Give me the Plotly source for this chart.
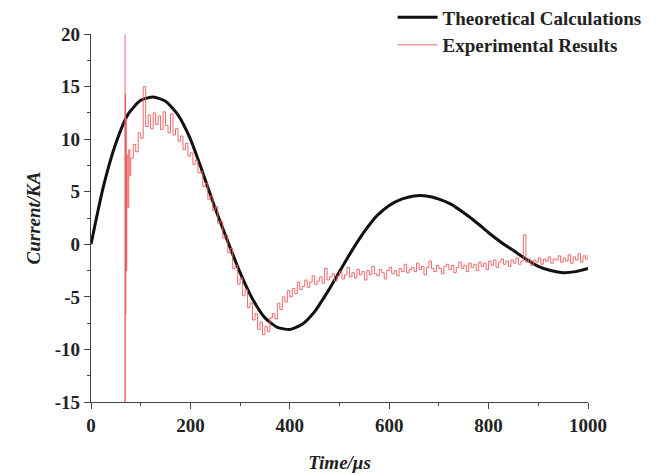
import plotly.graph_objects as go

# Theoretical calculation
theo_time = [0, 25, 50, 75, 100, 125, 150, 175, 200, 225, 250, 275, 300, 325, 350, 375, 400,
             425, 450, 475, 500, 525, 550, 575, 600, 625, 650, 675, 700, 725, 750, 775, 800,
             825, 850, 875, 900, 925, 950, 975, 1000]
theo_current = [0, 5.5, 9.6, 12.4, 13.7, 14.0, 13.6, 12.3, 10.0, 6.8, 3.4, 0.3, -2.7, -5.2, -7.0, -7.9, -8.1,
                -7.6, -6.4, -4.6, -2.6, -0.6, 1.2, 2.7, 3.7, 4.3, 4.6, 4.6, 4.3, 3.8, 3.0, 2.1, 1.1,
                0.2, -0.6, -1.4, -2.1, -2.5, -2.7, -2.6, -2.3]

spike_time = [68, 68.5, 69, 69.5, 70, 71, 72, 74, 76, 78]
spike_current = [20.5, -15.5, 14.3, -6.7, 12.0, -2.5, 8.5, 3.5, 9.0, 6.5]
exp_current = [
    8.2, 9.5, 8.8, 10.6, 10.1, 15.0, 11.2, 12.3, 11.0, 12.5, 11.4, 12.2, 10.9, 12.6, 11.3, 10.6, 12.4, 10.4, 11.0, 9.8, 10.3, 9.0, 9.6, 8.4,
    8.7, 7.6, 8.0, 6.8, 6.9, 5.5, 5.8, 4.3, 4.6, 3.2, 3.6, 2.0, 2.2, 0.6, 0.9, -0.8, -0.4, -2.3, -2.0, -3.8, -3.2, -4.9, -4.3, -6.0, -5.6, -7.2, -6.6, -8.1, -7.4, -8.6,
    -7.8, -8.3, -7.0, -6.6, -7.1, -5.6, -6.2, -5.0, -5.5, -4.4, -5.0, -4.2, -4.7, -3.6, -4.3, -4.0, -3.4, -4.1, -3.6, -3.0, -3.8, -3.5, -3.1, -3.7, -2.3, -3.4, -3.1, -2.8, -3.5, -3.0,
    -2.6, -3.3, -2.9, -2.2, -3.1, -2.7, -3.2, -2.4, -2.9, -2.6, -3.4, -2.5, -2.9, -2.1, -2.8, -3.0, -2.4, -2.7, -3.3, -2.5, -2.2, -2.8, -2.5, -3.0, -2.3, -2.6, -1.9, -2.7, -2.4, -2.2,
    -2.6, -1.8, -2.4, -2.1, -2.9, -2.2, -1.6, -2.3, -2.6, -2.0, -2.3, -2.8, -2.1, -1.9, -2.4, -2.0, -2.7, -2.2, -1.7, -2.3, -2.0, -2.6, -1.8, -2.2, -1.9, -2.5, -1.7, -2.1, -1.8, -2.4,
    -1.6, -2.0, -1.5, -2.2, -1.7, -1.4, -1.9, -1.6, -2.1, -1.5, -1.8, -1.3, -1.9, -1.6, 0.9, -1.7, -1.4, -2.0, -1.5, -1.7, -1.3, -1.9, -1.4, -1.6, -1.2, -1.8, -1.4, -1.5, -1.1, -1.7,
    -1.3, -1.6, -1.0, -1.8, -1.2, -1.5, -0.9, -1.7, -1.1, -1.4, -1.0,
]
exp_time = spike_time + list(range(80, 80 + 5 * len(exp_current), 5))
exp_values = spike_current + exp_current

y_tickvals = [-15, -10, -5, 0, 5, 10, 15, 20]
y_ticktext = ["-15", "-10", "-5", "0", "5", "10", "15", "20"]
x_tickvals = [0, 200, 400, 600, 800, 1000]
x_ticktext = ["0", "200", "400", "600", "800", "1000"]

serif = "Liberation Serif"

fig = go.Figure()
fig.add_trace(go.Scatter(
    x=theo_time, y=theo_current, mode="lines", name="Theoretical Calculations",
    line=dict(color="#111111", width=3, shape="spline", smoothing=0.6),
))
fig.add_trace(go.Scatter(
    x=exp_time, y=exp_values, mode="lines", name="Experimental Results",
    line=dict(color="#ec5a5e", width=0.9, shape="hv"),
))

axis_common = dict(
    showgrid=False, zeroline=False, showline=True, linecolor="#444444", linewidth=1.2,
    ticks="outside", ticklen=6, tickcolor="#444444", tickwidth=1.2,
    tickfont=dict(family=serif, size=19, color="#222222", weight="bold"),
)

fig.update_layout(
    width=657, height=474,
    margin=dict(l=83, r=77, t=26, b=80, autoexpand=False),
    plot_bgcolor="white", paper_bgcolor="white",
    showlegend=True,
    legend=dict(
        xref="container", yref="paper", x=0.972, y=1.097, xanchor="right", yanchor="top",
        font=dict(family=serif, size=19, color="#222222", weight="bold"),
        bgcolor="rgba(0,0,0,0)", tracegroupgap=0, itemwidth=40,
    ),
    xaxis=dict(
        range=[0, 1000], tickvals=x_tickvals, ticktext=x_ticktext,
        minor=dict(ticks="outside", ticklen=3, dtick=100, tickcolor="#444444", tickwidth=1.2),
        title=dict(text="<i>Time/μs</i>", font=dict(family=serif, size=19, color="#222222", weight="bold"), standoff=20),
        **axis_common,
    ),
    yaxis=dict(
        range=[-15, 20], tickvals=y_tickvals, ticktext=y_ticktext,
        minor=dict(ticks="outside", ticklen=3, dtick=2.5, tick0=0, tickcolor="#444444", tickwidth=1.2),
        title=dict(text="<i>Current/KA</i>", font=dict(family=serif, size=19, color="#222222", weight="bold"), standoff=9),
        **axis_common,
    ),
)

fig.write_html("out.html")
